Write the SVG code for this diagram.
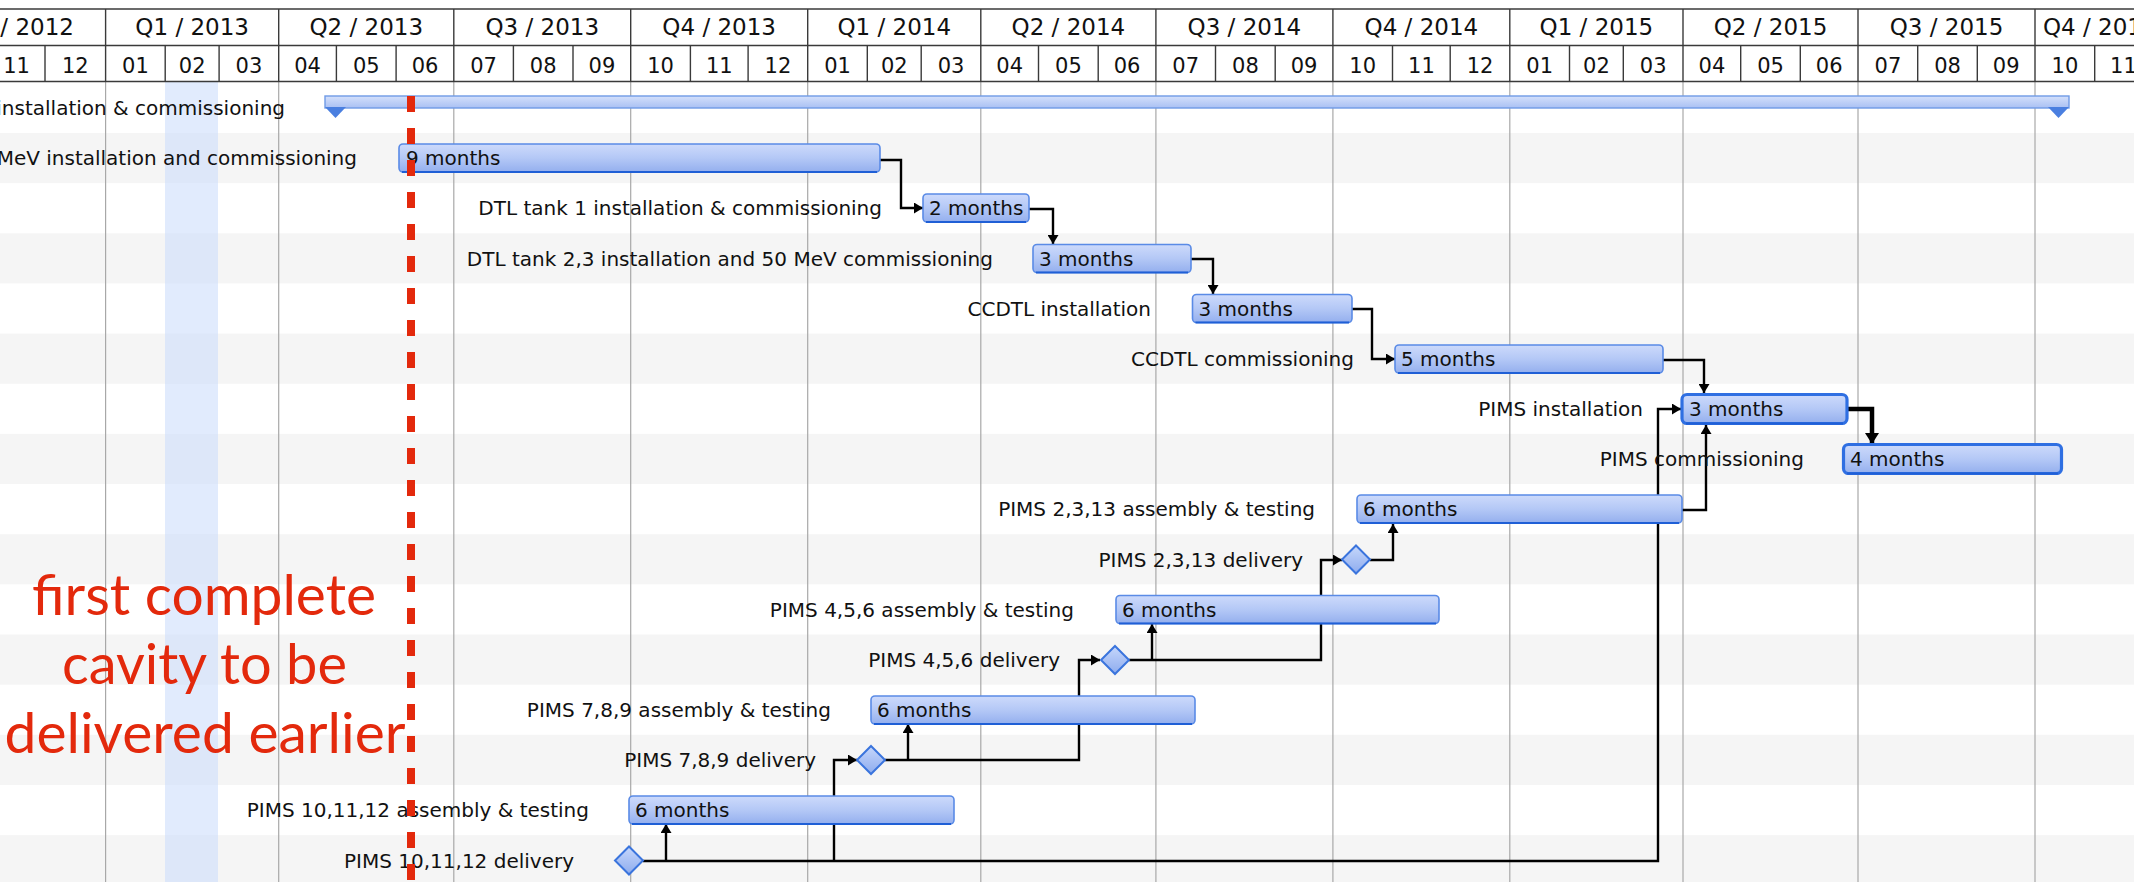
<svg xmlns="http://www.w3.org/2000/svg" width="2134" height="882" viewBox="0 0 2134 882">
<style>
.hd{font-family:"DejaVu Sans","Liberation Sans",sans-serif;fill:#111;text-anchor:middle}
.q{font-size:23px}
.m{font-size:21px}
.lbl{font-family:"DejaVu Sans","Liberation Sans",sans-serif;font-size:20px;fill:#111;text-anchor:end}
.bt{font-family:"DejaVu Sans","Liberation Sans",sans-serif;font-size:20px;fill:#111}
.bar{fill:url(#gBar);stroke:#5a8be6;stroke-width:1.6}
.crit{fill:url(#gBar);stroke:#2f6fe2;stroke-width:3.2}
.bot{stroke:#1f5fd6;stroke-width:2;fill:none}
.ms{fill:url(#gDia);stroke:#3a74dd;stroke-width:2}
.stripe{fill:#f5f5f5}
.grid{stroke:#a8a8a8;stroke-width:1.2}
.hl{stroke:#3a3a3a;stroke-width:1.4}
.con{fill:none;stroke:#000;stroke-width:2.4;marker-end:url(#arr)}
.conb{fill:none;stroke:#000;stroke-width:2.4}
.note{font-family:Lato,"Open Sans","Liberation Sans",sans-serif;font-size:56px;fill:#e3290c;text-anchor:middle}
</style>
<defs>
<linearGradient id="gBar" x1="0" y1="0" x2="0" y2="1">
<stop offset="0" stop-color="#cddafb"/>
<stop offset="0.5" stop-color="#b4c8f6"/>
<stop offset="1" stop-color="#94afee"/>
</linearGradient>
<linearGradient id="gSum" x1="0" y1="0" x2="0" y2="1">
<stop offset="0" stop-color="#d4e0fb"/>
<stop offset="1" stop-color="#a9c0f3"/>
</linearGradient>
<linearGradient id="gDia" x1="0" y1="0" x2="0" y2="1">
<stop offset="0" stop-color="#c6d7fb"/>
<stop offset="1" stop-color="#8eacee"/>
</linearGradient>
<marker id="arr" markerUnits="userSpaceOnUse" markerWidth="10" markerHeight="11" refX="9" refY="5.5" orient="auto">
<path d="M0,0 L9,5.5 L0,11 z" fill="#000"/>
</marker>
<marker id="arrB" markerUnits="userSpaceOnUse" markerWidth="12" markerHeight="14" refX="11" refY="7" orient="auto">
<path d="M0,0 L11,7 L0,14 z" fill="#000"/>
</marker>
</defs>

<rect x="0" y="0" width="2134" height="882" fill="#fff"/>

<g id="stripes">
<rect class="stripe" x="0" y="133" width="2134" height="50.15"/>
<rect class="stripe" x="0" y="233.3" width="2134" height="50.15"/>
<rect class="stripe" x="0" y="333.6" width="2134" height="50.15"/>
<rect class="stripe" x="0" y="433.9" width="2134" height="50.15"/>
<rect class="stripe" x="0" y="534.2" width="2134" height="50.15"/>
<rect class="stripe" x="0" y="634.5" width="2134" height="50.15"/>
<rect class="stripe" x="0" y="734.8" width="2134" height="50.15"/>
<rect class="stripe" x="0" y="835.1" width="2134" height="50.15"/>
</g>

<rect id="highlight" x="165" y="82" width="53" height="800" fill="#c8dbfb" opacity="0.55"/>

<g id="body-grid">
<line class="grid" x1="105.6" y1="82" x2="105.6" y2="882"/>
<line class="grid" x1="278.7" y1="82" x2="278.7" y2="882"/>
<line class="grid" x1="453.8" y1="82" x2="453.8" y2="882"/>
<line class="grid" x1="630.7" y1="82" x2="630.7" y2="882"/>
<line class="grid" x1="807.7" y1="82" x2="807.7" y2="882"/>
<line class="grid" x1="980.8" y1="82" x2="980.8" y2="882"/>
<line class="grid" x1="1155.9" y1="82" x2="1155.9" y2="882"/>
<line class="grid" x1="1332.9" y1="82" x2="1332.9" y2="882"/>
<line class="grid" x1="1509.8" y1="82" x2="1509.8" y2="882"/>
<line class="grid" x1="1683" y1="82" x2="1683" y2="882"/>
<line class="grid" x1="1858" y1="82" x2="1858" y2="882"/>
<line class="grid" x1="2035" y1="82" x2="2035" y2="882"/>
</g>

<g id="header">
<line class="hl" x1="0" y1="9" x2="2134" y2="9" stroke="#777"/>
<line class="hl" x1="0" y1="45.5" x2="2134" y2="45.5"/>
<line class="hl" x1="0" y1="81.5" x2="2134" y2="81.5"/>
<g>
<line class="hl" x1="105.6" y1="9" x2="105.6" y2="82"/>
<line class="hl" x1="278.7" y1="9" x2="278.7" y2="82"/>
<line class="hl" x1="453.8" y1="9" x2="453.8" y2="82"/>
<line class="hl" x1="630.7" y1="9" x2="630.7" y2="82"/>
<line class="hl" x1="807.7" y1="9" x2="807.7" y2="82"/>
<line class="hl" x1="980.8" y1="9" x2="980.8" y2="82"/>
<line class="hl" x1="1155.9" y1="9" x2="1155.9" y2="82"/>
<line class="hl" x1="1332.9" y1="9" x2="1332.9" y2="82"/>
<line class="hl" x1="1509.8" y1="9" x2="1509.8" y2="82"/>
<line class="hl" x1="1683" y1="9" x2="1683" y2="82"/>
<line class="hl" x1="1858" y1="9" x2="1858" y2="82"/>
<line class="hl" x1="2035" y1="9" x2="2035" y2="82"/>
</g>
<path class="hl" d="M45,45.5V82 M165.2,45.5V82 M219.1,45.5V82 M336.4,45.5V82 M396.1,45.5V82 M513.4,45.5V82 M573,45.5V82 M690.4,45.5V82 M748.1,45.5V82 M867.3,45.5V82 M921.2,45.5V82 M1038.5,45.5V82 M1098.2,45.5V82 M1215.5,45.5V82 M1275.2,45.5V82 M1392.5,45.5V82 M1450.2,45.5V82 M1569.5,45.5V82 M1623.3,45.5V82 M1740.7,45.5V82 M1800.3,45.5V82 M1917.7,45.5V82 M1977.3,45.5V82 M2094.7,45.5V82"/>
<g class="hd q">
<text x="17.1" y="35">Q4 / 2012</text>
<text x="192.2" y="35">Q1 / 2013</text>
<text x="366.3" y="35">Q2 / 2013</text>
<text x="542.3" y="35">Q3 / 2013</text>
<text x="719.2" y="35">Q4 / 2013</text>
<text x="894.3" y="35">Q1 / 2014</text>
<text x="1068.4" y="35">Q2 / 2014</text>
<text x="1244.4" y="35">Q3 / 2014</text>
<text x="1421.4" y="35">Q4 / 2014</text>
<text x="1596.4" y="35">Q1 / 2015</text>
<text x="1770.5" y="35">Q2 / 2015</text>
<text x="1946.5" y="35">Q3 / 2015</text>
<text x="2043" y="35" style="text-anchor:start">Q4 / 2015</text>
</g>
<g class="hd m">
<text x="16.6" y="72.5">11</text>
<text x="75.3" y="72.5">12</text>
<text x="135.4" y="72.5">01</text>
<text x="192.2" y="72.5">02</text>
<text x="248.9" y="72.5">03</text>
<text x="307.6" y="72.5">04</text>
<text x="366.3" y="72.5">05</text>
<text x="425" y="72.5">06</text>
<text x="483.6" y="72.5">07</text>
<text x="543.2" y="72.5">08</text>
<text x="601.9" y="72.5">09</text>
<text x="660.6" y="72.5">10</text>
<text x="719.3" y="72.5">11</text>
<text x="777.9" y="72.5">12</text>
<text x="837.5" y="72.5">01</text>
<text x="894.3" y="72.5">02</text>
<text x="951" y="72.5">03</text>
<text x="1009.7" y="72.5">04</text>
<text x="1068.4" y="72.5">05</text>
<text x="1127" y="72.5">06</text>
<text x="1185.7" y="72.5">07</text>
<text x="1245.4" y="72.5">08</text>
<text x="1304" y="72.5">09</text>
<text x="1362.7" y="72.5">10</text>
<text x="1421.4" y="72.5">11</text>
<text x="1480" y="72.5">12</text>
<text x="1539.7" y="72.5">01</text>
<text x="1596.4" y="72.5">02</text>
<text x="1653.2" y="72.5">03</text>
<text x="1711.9" y="72.5">04</text>
<text x="1770.5" y="72.5">05</text>
<text x="1829.2" y="72.5">06</text>
<text x="1887.9" y="72.5">07</text>
<text x="1947.5" y="72.5">08</text>
<text x="2006.2" y="72.5">09</text>
<text x="2064.9" y="72.5">10</text>
<text x="2123.4" y="72.5">11</text>
</g>
</g>

<g id="connectors">
<path class="con" d="M880,160 H901 V208 H923"/>
<path class="con" d="M1029,209 H1053 V244"/>
<path class="con" d="M1191,259 H1213 V294"/>
<path class="con" d="M1352,309 H1372 V359 H1395"/>
<path class="con" d="M1663,360 H1704 V393"/>
<path fill="none" stroke="#000" stroke-width="4.5" marker-end="url(#arrB)" d="M1847,409 H1872 V444"/>
<path class="con" d="M1682,510 H1706 V425"/>
<path class="con" d="M643,861 H1658 V409 H1681"/>
<path class="con" d="M666,861 V824"/>
<path class="con" d="M834,861 V760 H857"/>
<path class="con" d="M885,760 H1079 V660 H1100"/>
<path class="con" d="M908,760 V724"/>
<path class="con" d="M1129,660 H1321 V560 H1342"/>
<path class="con" d="M1152,660 V624"/>
<path class="con" d="M1370,560 H1393 V524"/>
</g>

<g id="task-summary">
<text class="lbl" x="285" y="115">installation &amp; commissioning</text>
<rect x="325" y="96" width="1744" height="12" fill="url(#gSum)" stroke="#6f9be6" stroke-width="1.4"/>
<polygon points="325,107 346,107 335.5,118" fill="#4a7fe0"/>
<polygon points="2048,107 2069,107 2058.5,118" fill="#4a7fe0"/>
</g>

<g id="task-mev">
<text class="lbl" x="357" y="165">MeV installation and commissioning</text>
<rect class="bar" x="399" y="144" width="481" height="28" rx="4"/>
<path class="bot" d="M402,172 H877"/>
<text class="bt" x="406" y="165">9 months</text>
</g>

<g id="task-dtl1">
<text class="lbl" x="882" y="215">DTL tank 1 installation &amp; commissioning</text>
<rect class="bar" x="923" y="194" width="106" height="28" rx="4"/>
<path class="bot" d="M926,222 H1026"/>
<text class="bt" x="929" y="215">2 months</text>
</g>

<g id="task-dtl23">
<text class="lbl" x="993" y="265.5">DTL tank 2,3 installation and 50 MeV commissioning</text>
<rect class="bar" x="1033" y="244.5" width="158" height="28" rx="4"/>
<path class="bot" d="M1036,272.5 H1188"/>
<text class="bt" x="1039" y="265.5">3 months</text>
</g>

<g id="task-ccdtl-inst">
<text class="lbl" x="1151" y="315.5">CCDTL installation</text>
<rect class="bar" x="1192.5" y="294.5" width="159.5" height="28" rx="4"/>
<path class="bot" d="M1195.5,322.5 H1349"/>
<text class="bt" x="1198.5" y="315.5">3 months</text>
</g>

<g id="task-ccdtl-comm">
<text class="lbl" x="1354" y="366">CCDTL commissioning</text>
<rect class="bar" x="1395" y="345" width="268" height="28" rx="4"/>
<path class="bot" d="M1398,373 H1660"/>
<text class="bt" x="1401" y="366">5 months</text>
</g>

<g id="task-pims-inst">
<text class="lbl" x="1643" y="416">PIMS installation</text>
<rect class="crit" x="1682" y="394.5" width="165" height="29" rx="5"/>
<path class="bot" d="M1686,423.5 H1843" stroke-width="2.5"/>
<text class="bt" x="1689" y="416">3 months</text>
</g>

<g id="task-pims-comm">
<text class="lbl" x="1804" y="466">PIMS commissioning</text>
<rect class="crit" x="1843.5" y="444.5" width="218" height="29" rx="5"/>
<path class="bot" d="M1847,473.5 H2058" stroke-width="2.5"/>
<text class="bt" x="1850" y="466">4 months</text>
</g>

<g id="task-pims-2313-asm">
<text class="lbl" x="1315" y="516">PIMS 2,3,13 assembly &amp; testing</text>
<rect class="bar" x="1357" y="495" width="325" height="28" rx="4"/>
<path class="bot" d="M1360,523 H1679"/>
<text class="bt" x="1363" y="516">6 months</text>
</g>

<g id="task-pims-2313-del">
<text class="lbl" x="1303" y="566.5">PIMS 2,3,13 delivery</text>
<polygon class="ms" points="1356,545.5 1370,559.5 1356,573.5 1342,559.5"/>
</g>

<g id="task-pims-456-asm">
<text class="lbl" x="1074" y="616.5">PIMS 4,5,6 assembly &amp; testing</text>
<rect class="bar" x="1116" y="595.5" width="323" height="28" rx="4"/>
<path class="bot" d="M1119,623.5 H1436"/>
<text class="bt" x="1122" y="616.5">6 months</text>
</g>

<g id="task-pims-456-del">
<text class="lbl" x="1060" y="667">PIMS 4,5,6 delivery</text>
<polygon class="ms" points="1115,646 1129,660 1115,674 1101,660"/>
</g>

<g id="task-pims-789-asm">
<text class="lbl" x="831" y="717">PIMS 7,8,9 assembly &amp; testing</text>
<rect class="bar" x="871" y="696" width="324" height="28" rx="4"/>
<path class="bot" d="M874,724 H1192"/>
<text class="bt" x="877" y="717">6 months</text>
</g>

<g id="task-pims-789-del">
<text class="lbl" x="816" y="767">PIMS 7,8,9 delivery</text>
<polygon class="ms" points="871,746 885,760 871,774 857,760"/>
</g>

<g id="task-pims-101112-asm">
<text class="lbl" x="589" y="817">PIMS 10,11,12 assembly &amp; testing</text>
<rect class="bar" x="629" y="796" width="325" height="28" rx="4"/>
<path class="bot" d="M632,824 H951"/>
<text class="bt" x="635" y="817">6 months</text>
</g>

<g id="task-pims-101112-del">
<text class="lbl" x="574" y="867.5">PIMS 10,11,12 delivery</text>
<polygon class="ms" points="629,846.5 643,860.5 629,874.5 615,860.5"/>
</g>

<g id="annotation">
<text class="note" x="204" y="615" textLength="344" lengthAdjust="spacingAndGlyphs">first complete</text>
<text class="note" x="204.5" y="684" textLength="285" lengthAdjust="spacingAndGlyphs">cavity to be</text>
<text class="note" x="205" y="753" textLength="401" lengthAdjust="spacingAndGlyphs">delivered earlier</text>
<line x1="411" y1="96" x2="411" y2="882" stroke="#e3290c" stroke-width="8" stroke-dasharray="16 16"/>
</g>
</svg>
